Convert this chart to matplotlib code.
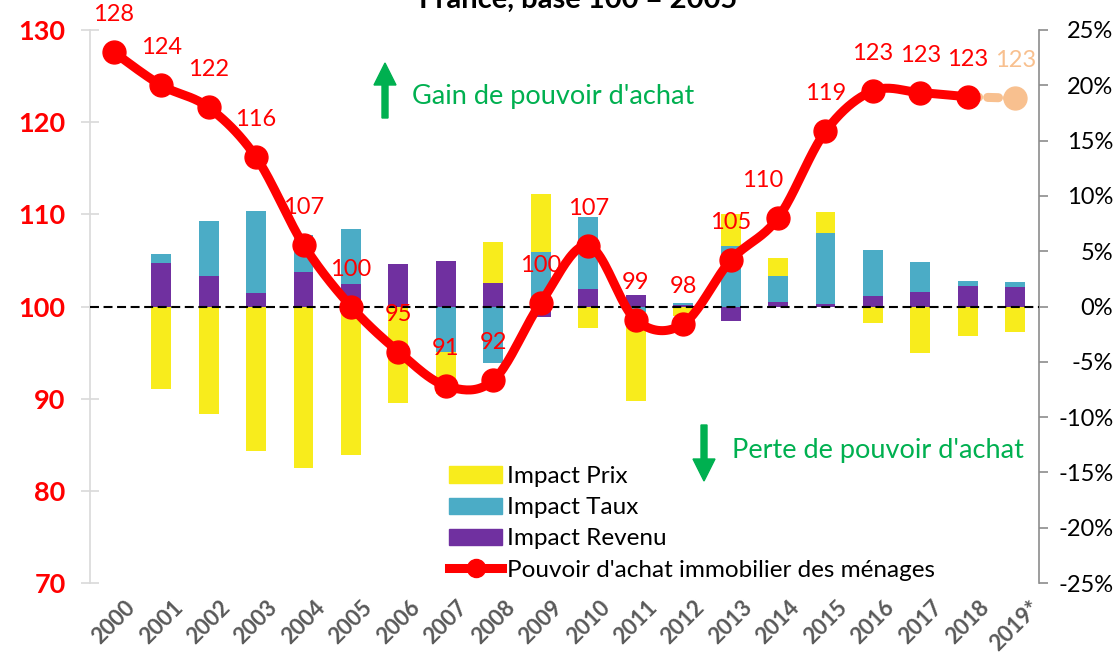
import numpy as np
import matplotlib
matplotlib.use("Agg")
import matplotlib.pyplot as plt
from matplotlib.patches import Patch, FancyArrow
from matplotlib.lines import Line2D
import matplotlib.transforms as mtransforms

plt.rcParams['font.family'] = ['Lato', 'DejaVu Sans']

# ---------------- data ----------------
years = ["2000", "2001", "2002", "2003", "2004", "2005", "2006", "2007", "2008", "2009",
         "2010", "2011", "2012", "2013", "2014", "2015", "2016", "2017", "2018", "2019*"]
impact_revenu = [0, 3.9, 2.75, 1.2, 3.1, 2.0, 3.85, 4.1, 2.1, -0.95,
                 1.55, 1.05, 0.1, -1.35, 0.4, 0.2, 0.95, 1.3, 1.85, 1.75]
impact_taux = [0, 0.85, 5.0, 7.45, 3.35, 5.05, 0, -4.15, -5.15, 4.95,
               6.5, -0.5, 0.25, 5.45, 2.35, 6.45, 4.15, 2.75, 0.5, 0.45]
impact_prix = [0, -7.45, -9.7, -13.1, -14.6, -13.4, -8.7, -3.75, 3.7, 5.25,
               -1.95, -8.0, -0.9, 2.9, 1.65, 1.85, -1.5, -4.2, -2.7, -2.3]
pouvoir_achat = [127.6, 124.0, 121.6, 116.2, 106.7, 100.0, 95.1, 91.4, 92.0, 100.4,
                 106.6, 98.55, 98.1, 105.0, 109.6, 119.0, 123.4, 123.2, 122.75, 122.6]
left_ticks = [70, 80, 90, 100, 110, 120, 130]
right_ticks = [-25, -20, -15, -10, -5, 0, 5, 10, 15, 20, 25]

title = "France, base 100 = 2005"
legend_labels = ["Impact Prix", "Impact Taux", "Impact Revenu",
                 "Pouvoir d'achat immobilier des ménages"]

# ---------------- style ----------------
C_PRIX = "#F8EC1C"
C_TAUX = "#4BACC6"
C_REV = "#7030A0"
C_RED = "#FF0000"
C_PEACH = "#F8C08F"
C_GREEN = "#00B050"

W, H = 1118, 654
fig = plt.figure(figsize=(W / 100, H / 100), dpi=100)
ax = fig.add_axes([90 / W, 71 / H, 949 / W, 553 / H])
ax2 = ax.twinx()
ax.set_zorder(2)
ax2.set_zorder(1)
ax.patch.set_visible(False)

n = len(years)
x = np.arange(n)

# stacked bars (percent) on right axis
series = [(impact_revenu, C_REV), (impact_taux, C_TAUX), (impact_prix, C_PRIX)]
pos_base = np.zeros(n)
neg_base = np.zeros(n)
bw = 0.42
for vals, col in series:
    v = np.array(vals, dtype=float)
    bottoms = np.where(v >= 0, pos_base, neg_base)
    ax2.bar(x, v, bw, bottom=bottoms, color=col, edgecolor='none', zorder=2)
    pos_base = pos_base + np.where(v >= 0, v, 0)
    neg_base = neg_base + np.where(v < 0, v, 0)

ax2.set_ylim(-25, 25)
ax2.set_yticks(right_ticks)
ax2.set_yticklabels([f"{t}%" for t in right_ticks])
ax2.tick_params(axis='y', direction='out', length=6.5, width=1.2, color='#8C8C8C',
                labelsize=17, labelcolor='black', pad=47)
for lab in ax2.get_yticklabels():
    lab.set_horizontalalignment('right')

# left axis
ax.set_ylim(70, 130)
ax.set_xlim(-0.5, n - 0.5)
ax.set_yticks(left_ticks)
ax.tick_params(axis='y', direction='inout', length=13, width=1.2, color='#D9D9D9',
               labelsize=19.5, labelcolor=C_RED, pad=11)
for lab in ax.get_yticklabels():
    lab.set_fontweight('bold')
ax.set_xticks(x)
ax.set_xticklabels(years, rotation=45, ha='center', va='top', fontsize=16,
                   fontweight='bold', color='#595959')
ax.tick_params(axis='x', length=0, pad=10)

for a in (ax, ax2):
    a.spines['top'].set_visible(False)
    a.spines['bottom'].set_visible(False)
ax.spines['right'].set_visible(False)
ax2.spines['left'].set_visible(False)
ax.spines['left'].set_color('#D9D9D9')
ax.spines['left'].set_linewidth(1.2)
ax2.spines['right'].set_color('#8C8C8C')
ax2.spines['right'].set_linewidth(1.2)

# baseline
ax.axhline(100, color='black', lw=1.5, ls=(0, (4.3, 2.2)), zorder=3)


# smooth line (Bezier through points)
def smooth(xs, ys, steps=24):
    pts = np.column_stack([xs, ys]).astype(float)
    out = []
    for i in range(len(pts) - 1):
        p0 = pts[i - 1] if i > 0 else pts[i]
        p1, p2 = pts[i], pts[i + 1]
        p3 = pts[i + 2] if i + 2 < len(pts) else pts[i + 1]
        c1 = p1 + (p2 - p0) / 6
        c2 = p2 - (p3 - p1) / 6
        t = np.linspace(0, 1, steps)[:, None]
        seg = (1 - t) ** 3 * p1 + 3 * (1 - t) ** 2 * t * c1 + 3 * (1 - t) * t ** 2 * c2 + t ** 3 * p2
        out.append(seg if i == 0 else seg[1:])
    return np.vstack(out)


pa = np.array(pouvoir_achat)
curve = smooth(x[:-1], pa[:-1])
# projected segment
ax.plot(x[-2:], pa[-2:], color=C_PEACH, lw=6.5, ls=(0, (1.2, 1.0)),
        solid_capstyle='round', dash_capstyle='round', zorder=4)
ax.plot(x[-1], pa[-1], 'o', color=C_PEACH, ms=16.5, zorder=5)
ax.plot(curve[:, 0], curve[:, 1], color=C_RED, lw=6.5, solid_capstyle='round',
        solid_joinstyle='round', zorder=6)
ax.plot(x[:-1], pa[:-1], 'o', color=C_RED, ms=16.5, zorder=7)

# data labels
for i, v in enumerate(pa):
    dx = -11 if years[i] == "2014" else 0
    ax.annotate(f"{int(round(v))}", xy=(i, v), xytext=(dx, 27), textcoords='offset points',
                ha='center', va='center', fontsize=17,
                color=C_PEACH if i == n - 1 else C_RED, zorder=8)

# title (cut at top as in reference)
fig.text(578 / W, 1 - 8 / H, title, ha='center', va='baseline', fontsize=21,
         fontweight='bold', color='black')

# annotations with arrows
ident = mtransforms.IdentityTransform()
fig.add_artist(FancyArrow(385, H - 118, 0, 55, width=6, head_width=22, head_length=22,
                          length_includes_head=True, color=C_GREEN, transform=ident))
fig.add_artist(FancyArrow(704, H - 425, 0, -56, width=6, head_width=22, head_length=22,
                          length_includes_head=True, color=C_GREEN, transform=ident))
fig.text(412 / W, 1 - 104 / H, "Gain de pouvoir d'achat", ha='left', va='baseline',
         fontsize=19.5, color=C_GREEN)
fig.text(732 / W, 1 - 458 / H, "Perte de pouvoir d'achat", ha='left', va='baseline',
         fontsize=19.5, color=C_GREEN)

# legend
handles = [Patch(color=C_PRIX), Patch(color=C_TAUX), Patch(color=C_REV),
           Line2D([0], [0], color=C_RED, lw=6.5, marker='o', ms=13)]
leg = ax.legend(handles, legend_labels, loc='upper left',
                bbox_to_anchor=(449 / W, 1 - 466 / H), bbox_transform=fig.transFigure,
                frameon=False, fontsize=17.5, handlelength=2.2, handleheight=0.65,
                handletextpad=0.2, labelspacing=0.42, borderpad=0, borderaxespad=0)

fig.savefig("out.png", dpi=100)
